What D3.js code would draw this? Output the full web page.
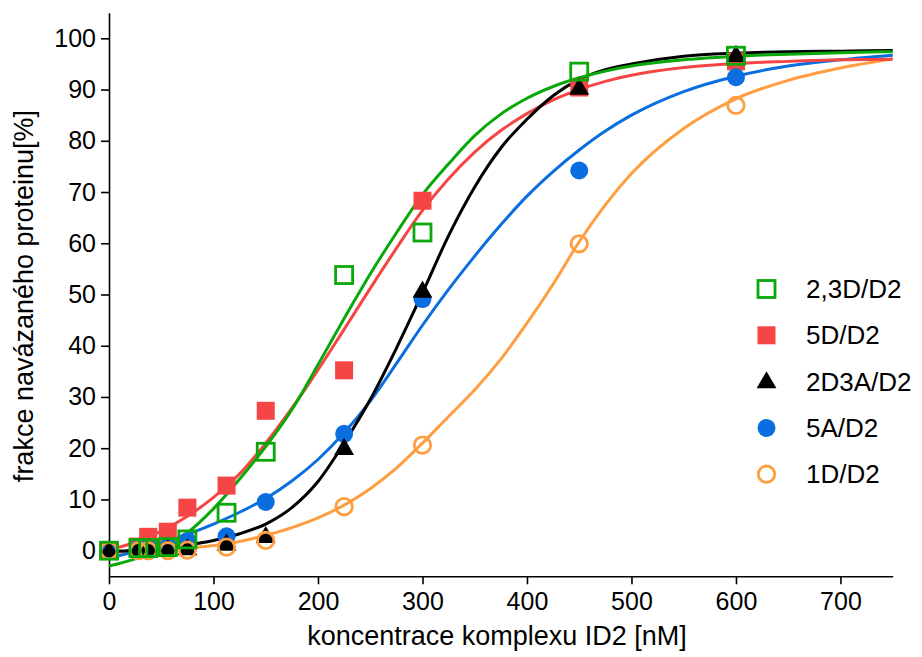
<!DOCTYPE html>
<html>
<head>
<meta charset="utf-8">
<script src="https://cdn.jsdelivr.net/npm/d3@7"></script>
<style>
  html, body { margin: 0; padding: 0; background: #fff; }
  svg { display: block; }
  text { font-family: "Liberation Sans", Arial, sans-serif; fill: #000; }
</style>
</head>
<body>
<svg id="chart" width="922" height="657"></svg>
<script>
// ---- data ----
const concentrations = [0, 28.1, 37.5, 56.3, 75, 112.5, 150, 225, 300, 450, 600];
const seriesNames = ["2,3D/D2", "5D/D2", "2D3A/D2", "5A/D2", "1D/D2"];
const pts23D  = [0, 0.5, 0.5, 0.7, 2.2, 7.4, 19.3, 53.8, 62.1, 93.5, 96.6];
const pts5D   = [0, 0.8, 2.7, 3.7, 8.4, 12.7, 27.3, 35.2, 68.3, 90.4, 95.5];
const pts2D3A = [0, 0.3, 0.5, 0.3, 0.4, 1.3, 2.8, 20.0, 50.7, 90.3, 96.7];
const pts5A   = [0, 0.3, 0.5, 0.6, 1.9, 2.8, 9.5, 22.8, 49.1, 74.2, 92.4];
const pts1D   = [0, 0, 0, 0, 0.1, 0.7, 2.0, 8.6, 20.6, 59.9, 86.9];

// fitted curves
const fitX     = [0,25,50,75,100,125,150,175,200,225,250,275,300,325,350,375,400,425,450,475,500,550,600,650,700,750];
const fit23D   = [-3.0,-1.6,0.4,3.5,8.2,14.0,20.3,27.5,36.3,45.3,54.0,62.0,69.5,75.5,81.0,85.2,88.3,90.6,92.3,93.6,94.6,95.8,96.5,96.9,97.2,97.4];
const fit5D    = [0.2,1.6,3.8,6.7,10.4,15.0,21.0,27.8,35.3,43.2,51.2,59.0,66.4,72.6,77.8,82.0,85.3,88.0,90.0,91.6,92.8,94.3,95.1,95.5,95.8,95.9];
const fit2D3A  = [-0.2,0.1,0.5,1.1,2.0,3.3,5.2,8.4,13.5,21.0,29.5,39.5,50.3,61.5,71.0,78.6,84.2,88.8,92.0,93.9,95.0,96.5,97.1,97.4,97.5,97.6];
const fit5A    = [-1.5,-0.1,1.4,3.2,5.2,7.5,10.2,13.6,17.8,23.0,29.2,36.5,44.0,51.0,57.5,63.6,69.2,74.0,78.2,81.9,85.0,89.6,92.6,94.6,95.8,96.7];
const fit1D    = [-0.4,-0.1,0.2,0.5,1.0,1.8,3.0,4.5,6.4,8.9,12.1,16.1,21.0,26.2,31.4,37.4,44.4,52.0,60.3,67.5,73.6,82.4,88.2,91.8,94.2,96.0];

const xTicks = [0, 100, 200, 300, 400, 500, 600, 700];
const yTicks = [0, 10, 20, 30, 40, 50, 60, 70, 80, 90, 100];
const xTitle = "koncentrace komplexu ID2 [nM]";
const yTitle = "frakce navázaného proteinu[%]";

// ---- styling ----
const colors = { "2,3D/D2": "#0aa80a", "5D/D2": "#f54545", "2D3A/D2": "#000000", "5A/D2": "#0a6ee0", "1D/D2": "#ff9e40" };
const shapes = { "2,3D/D2": "squareOpen", "5D/D2": "square", "2D3A/D2": "triangle", "5A/D2": "circle", "1D/D2": "circleOpen" };
const series = [
  { name: "2,3D/D2", pts: pts23D, fit: fit23D },
  { name: "5D/D2", pts: pts5D, fit: fit5D },
  { name: "2D3A/D2", pts: pts2D3A, fit: fit2D3A },
  { name: "5A/D2", pts: pts5A, fit: fit5A },
  { name: "1D/D2", pts: pts1D, fit: fit1D }
];

const svg = d3.select("#chart");
const x = d3.scaleLinear().domain([0, 750]).range([109, 892.7]);
const y = d3.scaleLinear().domain([-5, 105]).range([576.3, 12.7]);

// axes
const xAxis = d3.axisBottom(x).tickValues(xTicks).tickSize(8).tickSizeOuter(0).tickPadding(8);
const yAxis = d3.axisLeft(y).tickValues(yTicks).tickSize(8).tickSizeOuter(0).tickPadding(5);

const gx = svg.append("g").attr("transform", `translate(0,${y(-5)})`).call(xAxis);
const gy = svg.append("g").attr("transform", `translate(${x(0)},0)`).call(yAxis);
[gx, gy].forEach(g => {
  g.select(".domain").attr("stroke", "#000").attr("stroke-width", 1.6);
  g.selectAll(".tick line").attr("stroke", "#000").attr("stroke-width", 1.6);
  g.selectAll(".tick text").attr("font-size", 25).attr("font-family", "Liberation Sans, Arial, sans-serif").attr("fill", "#000");
});

svg.append("text").attr("x", 497).attr("y", 645).attr("text-anchor", "middle")
  .attr("font-size", 27).text(xTitle);
svg.append("text").attr("transform", `translate(33,296) rotate(-90)`).attr("text-anchor", "middle")
  .attr("font-size", 27).text(yTitle);

// curves
const line = d3.line().x(d => x(d[0])).y(d => y(d[1])).curve(d3.curveMonotoneX);
const drawOrder = ["1D/D2", "5A/D2", "5D/D2", "2D3A/D2", "2,3D/D2"];
drawOrder.forEach(n => {
  const s = series.find(s => s.name === n);
  svg.append("path").datum(fitX.map((v, i) => [v, s.fit[i]]))
    .attr("d", line).attr("fill", "none").attr("stroke", colors[n]).attr("stroke-width", 3);
});

// markers
function marker(g, shape, color, cx, cy) {
  if (shape === "squareOpen") {
    g.append("rect").attr("x", cx - 8.5).attr("y", cy - 8.5).attr("width", 17).attr("height", 17)
      .attr("fill", "none").attr("stroke", color).attr("stroke-width", 2.8);
  } else if (shape === "square") {
    g.append("rect").attr("x", cx - 9).attr("y", cy - 9).attr("width", 18).attr("height", 18).attr("fill", color);
  } else if (shape === "triangle") {
    g.append("path").attr("d", d3.symbol().type(d3.symbolTriangle).size(170)()).attr("transform", `translate(${cx},${cy + 1})`).attr("fill", color);
  } else if (shape === "circle") {
    g.append("circle").attr("cx", cx).attr("cy", cy).attr("r", 9).attr("fill", color);
  } else if (shape === "circleOpen") {
    g.append("circle").attr("cx", cx).attr("cy", cy).attr("r", 8.2).attr("fill", "none").attr("stroke", color).attr("stroke-width", 2.8);
  }
}
const markerOrder = ["5D/D2", "5A/D2", "2D3A/D2", "1D/D2", "2,3D/D2"];
markerOrder.forEach(n => {
  const s = series.find(s => s.name === n);
  const g = svg.append("g");
  concentrations.forEach((c, i) => marker(g, shapes[n], colors[n], x(c), y(s.pts[i])));
});

// legend
const leg = svg.append("g");
seriesNames.forEach((n, i) => {
  const cy = 289 + i * 46.3;
  marker(leg, shapes[n], colors[n], 766.5, cy);
  leg.append("text").attr("x", 806).attr("y", cy + 9).attr("font-size", 26).text(n);
});
</script>
</body>
</html>
